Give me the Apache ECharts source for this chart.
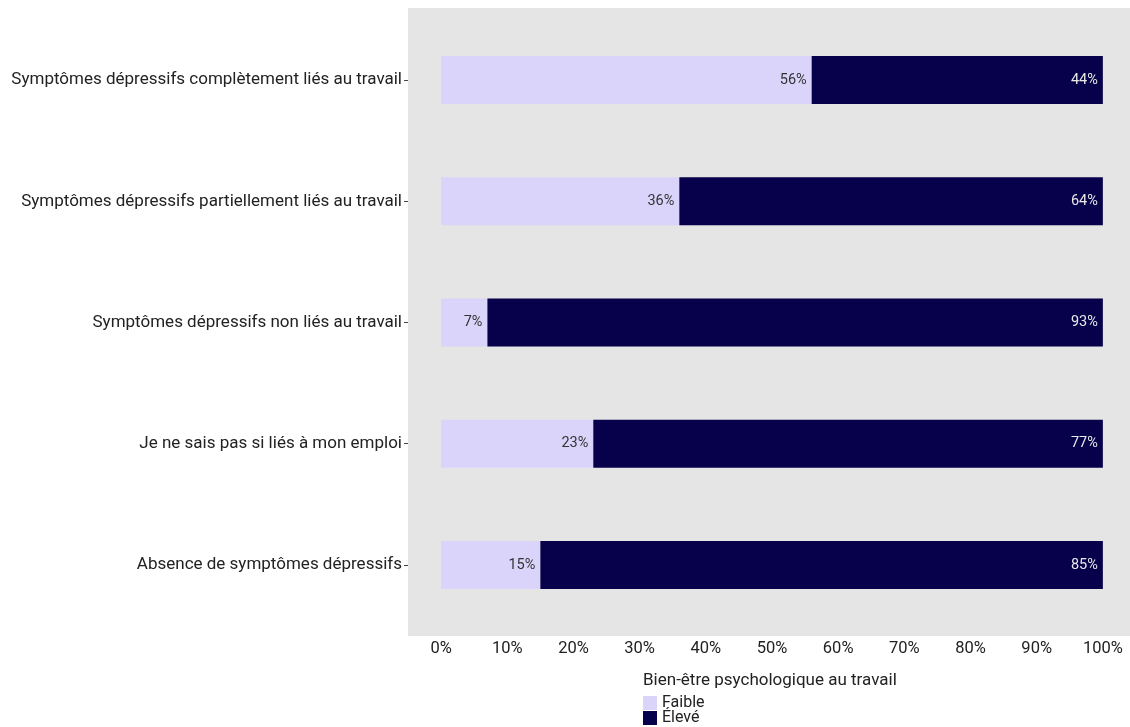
<!DOCTYPE html>
<html>
<head>
<meta charset="utf-8">
<script src="https://cdn.jsdelivr.net/npm/echarts@6/dist/echarts.min.js"></script>
<style>
  html, body { margin: 0; padding: 0; background: #fff; }
  #chart { width: 1130px; height: 727px; }
</style>
</head>
<body>
<div id="chart"></div>
<script>
var categories = [
  'Symptômes dépressifs complètement liés au travail',
  'Symptômes dépressifs partiellement liés au travail',
  'Symptômes dépressifs non liés au travail',
  'Je ne sais pas si liés à mon emploi',
  'Absence de symptômes dépressifs'
];
var faible = [56, 36, 7, 23, 15];
var eleve = [44, 64, 93, 77, 85];
var seriesNames = ['Faible', 'Élevé'];
var xTicks = [0, 10, 20, 30, 40, 50, 60, 70, 80, 90, 100];

var chart = echarts.init(document.getElementById('chart'));

var font = 'Roboto';

function legendFor(name, top) {
  return {
    orient: 'vertical',
    left: 643,
    top: top,
    itemWidth: 14,
    itemHeight: 14,
    itemGap: 0,
    padding: 0,
    icon: 'rect',
    textStyle: { fontSize: 16, color: '#222', fontFamily: font },
    data: [name]
  };
}

var option = {
  animation: false,
  textStyle: { fontFamily: font },
  // grey panel behind the plot (ggplot-style, with padding around the bands)
  graphic: [{
    type: 'rect',
    z: -10,
    shape: { x: 408, y: 8, width: 722, height: 628 },
    style: { fill: '#e5e5e5' }
  }],
  title: {
    text: 'Bien-être psychologique au travail',
    left: 638,
    top: 667,
    textStyle: { fontSize: 17, fontWeight: 'normal', color: '#222', fontFamily: font }
  },
  legend: [legendFor(seriesNames[0], 695), legendFor(seriesNames[1], 710)],
  grid: {
    left: 408,
    right: 0,
    top: 19.4,
    bottom: 101.4,
    containLabel: false
  },
  xAxis: {
    type: 'value',
    min: -5,
    max: 104.1,
    offset: 10,
    axisLine: { show: false },
    axisTick: { show: false },
    splitLine: { show: false },
    axisLabel: {
      customValues: xTicks,
      fontSize: 16.5,
      color: '#222',
      margin: 5,
      formatter: '{value}%'
    }
  },
  yAxis: {
    type: 'category',
    inverse: true,
    data: categories,
    axisLine: { show: false, onZero: false },
    axisTick: { show: true, alignWithLabel: true, length: 4, lineStyle: { color: '#444' } },
    axisLabel: { fontSize: 17, color: '#222', margin: 6 }
  },
  series: [
    {
      name: seriesNames[0],
      type: 'bar',
      stack: 'total',
      barWidth: 48,
      data: faible,
      itemStyle: { color: '#dad4fb' },
      label: {
        show: true,
        position: 'insideRight',
        distance: 5,
        formatter: '{c}%',
        fontSize: 14.5,
        color: '#333'
      }
    },
    {
      name: seriesNames[1],
      type: 'bar',
      stack: 'total',
      barWidth: 48,
      data: eleve,
      itemStyle: { color: '#07004a' },
      label: {
        show: true,
        position: 'insideRight',
        distance: 5,
        formatter: '{c}%',
        fontSize: 14.5,
        color: '#e8e8e8'
      }
    }
  ]
};

chart.setOption(option);
window.addEventListener('resize', function () {
  chart.resize();
});
</script>
</body>
</html>
